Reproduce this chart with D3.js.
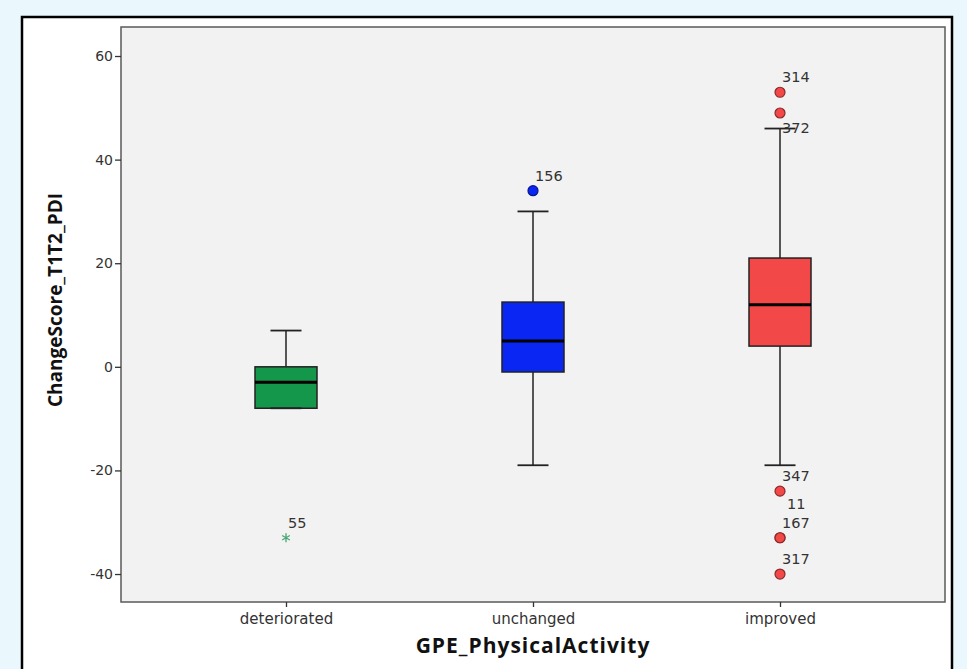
<!DOCTYPE html>
<html><head><meta charset="utf-8">
<script src="https://cdn.jsdelivr.net/npm/d3@7"></script>
<style>
html,body{margin:0;padding:0;background:#eaf8fd;}
svg{display:block;}
</style></head>
<body>
<script>
// ---- data ----
const categories = ["deteriorated", "unchanged", "improved"];
const whiskerLow  = [-8, -19, -19];
const q1          = [-8, -1, 4];
const median      = [-3, 5, 12];
const q3          = [0, 12.5, 21];
const whiskerHigh = [7, 30, 46];
const boxColors   = ["#15974b", "#0a26f2", "#f24848"];
const outlierGroup = ["deteriorated", "unchanged", "improved", "improved", "improved", "improved", "improved", "improved"];
const outlierValue = [-33, 34, 53, 49, -24, -33, -33, -40];
const outlierLabel = ["55", "156", "314", "372", "347", "11", "167", "317"];
const outlierExtreme = [true, false, false, false, false, false, false, false];
const yTicks = [-40, -20, 0, 20, 40, 60];
const xTitle = "GPE_PhysicalActivity";
const yTitle = "ChangeScore_T1T2_PDI";

const W = 967, H = 669;
const svg = d3.select("body").append("svg").attr("width", W).attr("height", H);

// outer panel
svg.append("rect").attr("x", 22).attr("y", 17).attr("width", 930).attr("height", 670)
  .attr("fill", "#ffffff").attr("stroke", "#000").attr("stroke-width", 2.5);

const plot = {left: 121, top: 27, right: 945, bottom: 602};
const y = d3.scaleLinear().domain([-45.4, 65.6]).range([plot.bottom, plot.top]);
const x = d3.scalePoint().domain(categories).range([plot.left, plot.right]).padding(0.668);

svg.append("rect").attr("x", plot.left).attr("y", plot.top)
  .attr("width", plot.right - plot.left).attr("height", plot.bottom - plot.top)
  .attr("fill", "#f2f2f2").attr("stroke", "#5a5a5a").attr("stroke-width", 1.5);

// y axis
const yAxis = d3.axisLeft(y).tickValues(yTicks).tickFormat(d => String(d)).tickSize(6).tickPadding(2);
const gy = svg.append("g").attr("transform", `translate(${plot.left},0)`).call(yAxis);
gy.select(".domain").remove();
gy.selectAll("line").attr("stroke", "#333").attr("stroke-width", 1.3);
gy.selectAll("text").attr("font-family", "DejaVu Sans").attr("font-size", 14).attr("fill", "#333");

// x axis
const xAxis = d3.axisBottom(x).tickSize(5).tickPadding(6);
const gx = svg.append("g").attr("transform", `translate(0,${plot.bottom})`).call(xAxis);
gx.select(".domain").remove();
gx.selectAll("line").attr("stroke", "#333").attr("stroke-width", 1.3);
gx.selectAll("text").attr("font-family", "DejaVu Sans").attr("font-size", 15).attr("fill", "#333");

// titles
svg.append("text").attr("x", (plot.left + plot.right) / 2).attr("y", 653)
  .attr("text-anchor", "middle").attr("font-family", "Open Sans").attr("font-weight", "bold")
  .attr("font-size", 21).attr("letter-spacing", 1).attr("fill", "#111").text(xTitle);
svg.append("text").attr("transform", "translate(62,300) rotate(-90)")
  .attr("text-anchor", "middle").attr("font-family", "Open Sans").attr("font-weight", "bold")
  .attr("font-size", 19).attr("fill", "#111").text(yTitle);

// boxes
const boxW = 62, capW = 31;
const stroke = "#222";
categories.forEach((c, i) => {
  const cx = x(c);
  const g = svg.append("g");
  g.append("line").attr("x1", cx).attr("x2", cx).attr("y1", y(whiskerHigh[i])).attr("y2", y(q3[i]))
    .attr("stroke", stroke).attr("stroke-width", 1.5);
  g.append("line").attr("x1", cx).attr("x2", cx).attr("y1", y(whiskerLow[i])).attr("y2", y(q1[i]))
    .attr("stroke", stroke).attr("stroke-width", 1.5);
  g.append("rect").attr("x", cx - boxW / 2).attr("y", y(q3[i]))
    .attr("width", boxW).attr("height", y(q1[i]) - y(q3[i]))
    .attr("fill", boxColors[i]).attr("stroke", stroke).attr("stroke-width", 1.5);
  [whiskerHigh[i], whiskerLow[i]].forEach(v => {
    g.append("line").attr("x1", cx - capW / 2).attr("x2", cx + capW / 2).attr("y1", y(v)).attr("y2", y(v))
      .attr("stroke", stroke).attr("stroke-width", 1.8);
  });
  g.append("line").attr("x1", cx - boxW / 2).attr("x2", cx + boxW / 2).attr("y1", y(median[i])).attr("y2", y(median[i]))
    .attr("stroke", "#000").attr("stroke-width", 3);
});

// outliers
const outliers = outlierValue.map((v, i) => ({group: outlierGroup[i], value: v, label: outlierLabel[i], extreme: outlierExtreme[i]}));
const colorOf = g => boxColors[categories.indexOf(g)];
const seen = {};
outliers.forEach((o, i) => {
  const cx = x(o.group), cy = y(o.value);
  const col = colorOf(o.group);
  if (o.extreme) {
    svg.append("path").attr("transform", `translate(${cx},${cy})`)
      .attr("d", d3.symbol(d3.symbolAsterisk, 55)()).attr("stroke", "#46a874").attr("stroke-width", 1.3).attr("fill", "none");
  } else {
    svg.append("circle").attr("cx", cx).attr("cy", cy).attr("r", 5)
      .attr("fill", col).attr("stroke", d3.color(col).darker(1.6)).attr("stroke-width", 1.2);
  }
  const key = o.group + "|" + o.value;
  const stackIdx = seen[key] || 0;
  seen[key] = stackIdx + 1;
  let ly = cy - 10;
  const clash = outliers.some((p, j) => j !== i && p.group === o.group && p.value !== o.value &&
     Math.abs(y(p.value) - (cy - 10)) < 12);
  if (clash) ly = cy + 20;
  const dupCount = outliers.filter(p => p.group === o.group && p.value === o.value).length;
  ly -= (dupCount - 1 - stackIdx) * 19;
  svg.append("text").attr("x", cx + 2 + (dupCount > 1 && stackIdx === 0 ? 5 : 0)).attr("y", ly)
    .attr("font-family", "DejaVu Sans").attr("font-size", 14.5).attr("fill", "#333").text(o.label);
});
</script>
</body></html>
